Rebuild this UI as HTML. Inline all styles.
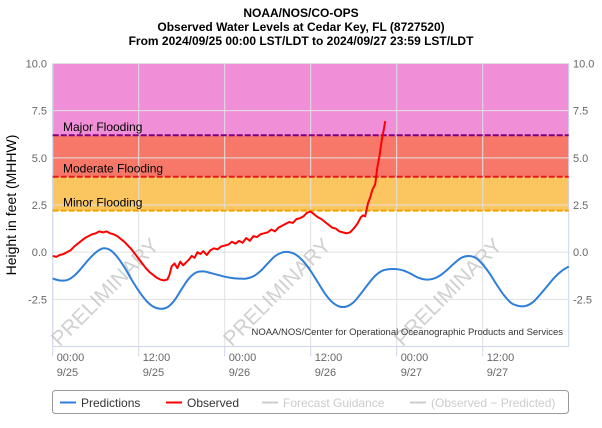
<!DOCTYPE html>
<html><head><meta charset="utf-8"><style>
body{margin:0;background:#fff;font-family:"Liberation Sans",sans-serif}
svg text{font-family:"Liberation Sans",sans-serif}
</style></head><body>
<svg id="c" width="602" height="423" viewBox="0 0 602 423">
<g font-weight="bold" font-size="12" text-anchor="middle" fill="#000">
<text x="301" y="17">NOAA/NOS/CO-OPS</text>
<text x="301" y="31">Observed Water Levels at Cedar Key, FL (8727520)</text>
<text x="301" y="45">From 2024/09/25 00:00 LST/LDT to 2024/09/27 23:59 LST/LDT</text>
</g>
<text transform="translate(16,205) rotate(-90)" text-anchor="middle" font-size="14" fill="#000">Height in feet (MHHW)</text>
<g id="plot"></g>
<rect x="52.5" y="390.5" width="516" height="23" rx="3" fill="#fff" stroke="#999"/>
<g font-size="12">
<g><line x1="60" y1="402.5" x2="76" y2="402.5" stroke="#2f7ed8" stroke-width="2"/><text x="81" y="407" fill="#333">Predictions</text></g>
<g><line x1="166" y1="402.5" x2="182" y2="402.5" stroke="#ff0000" stroke-width="2"/><text x="187" y="407" fill="#333">Observed</text></g>
<g><line x1="262" y1="402.5" x2="278" y2="402.5" stroke="#ccc" stroke-width="2"/><text x="283" y="407" fill="#ccc">Forecast Guidance</text></g>
<g><line x1="410" y1="402.5" x2="426" y2="402.5" stroke="#ccc" stroke-width="2"/><text x="431" y="407" fill="#ccc">(Observed − Predicted)</text></g>
</g>
</svg>
<script>
const predHours=[0,1,2,3,4,5,6,7,8,9,10,11,12,13,14,15,16,17,18,19,20,21,22,23,24,25,26,27,28,29,30,31,32,33,34,35,36,37,38,39,40,41,42,43,44,45,46,47,48,49,50,51,52,53,54,55,56,57,58,59,60,61,62,63,64,65,66,67,68,69,70,71,72];
const predVals=[-1.40,-1.50,-1.48,-1.25,-0.85,-0.40,-0.02,0.20,0.12,-0.25,-0.80,-1.45,-2.05,-2.55,-2.88,-3.00,-2.92,-2.55,-1.95,-1.40,-1.08,-1.02,-1.10,-1.20,-1.30,-1.37,-1.40,-1.40,-1.28,-1.00,-0.60,-0.22,-0.02,0.00,-0.15,-0.50,-1.00,-1.60,-2.20,-2.65,-2.88,-2.88,-2.65,-2.20,-1.70,-1.25,-0.98,-0.90,-0.90,-0.98,-1.15,-1.35,-1.45,-1.42,-1.25,-0.95,-0.60,-0.30,-0.20,-0.30,-0.65,-1.15,-1.75,-2.30,-2.70,-2.85,-2.85,-2.65,-2.25,-1.80,-1.35,-1.00,-0.76];
const obsHours=[0,0.5,1,1.5,2,2.5,3,3.5,4,4.5,5,5.5,6,6.5,7,7.5,8,8.5,9,9.5,10,10.5,11,11.5,12,12.5,13,13.5,14,14.5,15,15.5,16,16.3,16.6,17,17.4,17.8,18.2,18.6,19,19.4,19.8,20.2,20.6,21,21.5,22,22.5,23,23.5,24,24.5,25,25.5,26,26.5,27,27.5,28,28.5,29,29.5,30,30.5,31,31.5,32,32.5,33,33.5,34,34.5,35,35.5,36,36.5,37,37.5,38,38.5,39,39.5,40,40.5,41,41.5,42,42.5,43,43.3,43.6,44,44.3,44.6,45,45.3,45.6,45.9,46.2,46.4];
const obsVals=[-0.2,-0.25,-0.15,-0.1,0.0,0.1,0.3,0.45,0.6,0.75,0.85,0.95,1.0,1.1,1.05,1.1,1.0,0.95,0.85,0.7,0.55,0.35,0.15,-0.1,-0.35,-0.6,-0.85,-1.05,-1.2,-1.35,-1.45,-1.5,-1.45,-1.2,-0.75,-0.6,-0.85,-0.5,-0.7,-0.55,-0.4,-0.2,-0.3,0.0,-0.1,0.05,-0.15,0.1,0.2,0.15,0.3,0.35,0.4,0.55,0.45,0.6,0.5,0.75,0.6,0.85,0.8,0.95,1.0,1.05,1.2,1.1,1.3,1.4,1.5,1.6,1.55,1.75,1.8,1.9,2.1,2.15,2.0,1.85,1.75,1.6,1.45,1.3,1.25,1.1,1.05,1.0,1.05,1.25,1.5,1.85,1.95,1.9,2.6,2.9,3.3,3.6,4.5,5.1,5.9,6.5,6.95];
const yTicks=[10,7.5,5,2.5,0,-2.5];
const yTickLabels=["10.0","7.5","5.0","2.5","0.0","-2.5"];
const xTickHours=[0,12,24,36,48,60];
const xTickTimes=["00:00","12:00","00:00","12:00","00:00","12:00"];
const xTickDates=["9/25","9/25","9/26","9/26","9/27","9/27"];
const floodLevels=[6.2,4.0,2.2];
const floodNames=["Major Flooding","Moderate Flooding","Minor Flooding"];

const L=52.7,R=568.7,T=63.5,B=346.5,YMIN=-5,YMAX=10,HMAX=72;
const xs=h=>L+(R-L)*h/HMAX;
const ys=v=>B-(B-T)*(v-YMIN)/(YMAX-YMIN);
const NS="http://www.w3.org/2000/svg";
const g=document.getElementById('plot');
function mk(tag,attrs,parent){const e=document.createElementNS(NS,tag);for(const k in attrs)e.setAttribute(k,attrs[k]);(parent||g).appendChild(e);return e;}

const bandTop=[YMAX,floodLevels[0],floodLevels[1]];
const bandColors=["#f08fd8","#f77869","#fbc660"];
const bandNames=["major-flooding-band","moderate-flooding-band","minor-flooding-band"];
for(let i=0;i<3;i++){
  const r=mk('rect',{x:L,y:ys(bandTop[i]),width:R-L,height:ys(floodLevels[i])-ys(bandTop[i]),fill:bandColors[i]});
  
  
}
yTicks.forEach((v,i)=>{
  const l=mk('line',{x1:L,x2:R,y1:ys(v),y2:ys(v),stroke:"#e0e0e0","stroke-width":1});
  
  
  const t1=mk('text',{x:47,y:ys(v)+4,"text-anchor":"end","font-size":11,fill:"#666"});t1.textContent=yTickLabels[i];
  
  
  const t2=mk('text',{x:573,y:ys(v)+4,"text-anchor":"start","font-size":11,fill:"#666"});t2.textContent=yTickLabels[i];
  
  
});
xTickHours.forEach((h,i)=>{
  const l=mk('line',{x1:xs(h),x2:xs(h),y1:T,y2:B,stroke:"#e0e0e0","stroke-width":1});
  
  
  const tk=mk('line',{x1:xs(h),x2:xs(h),y1:B,y2:B+10,stroke:"#ccd6eb","stroke-width":1});
  
  
  const t1=mk('text',{x:xs(h)+4,y:361,"font-size":11,fill:"#666"});t1.textContent=xTickTimes[i];
  
  
  const t2=mk('text',{x:xs(h)+4,y:376,"font-size":11,fill:"#666"});t2.textContent=xTickDates[i];
  
  
});
mk('line',{x1:L,x2:R,y1:B,y2:B,stroke:"#ccd6eb"});
mk('line',{x1:L,x2:L,y1:T,y2:B,stroke:"#ccd6eb"});
mk('line',{x1:R,x2:R,y1:T,y2:B,stroke:"#ccd6eb"});
const lineColors=["#800080","#e8191a","#f5a300"];
const lineNames=["major-flooding","moderate-flooding","minor-flooding"];
floodLevels.forEach((v,i)=>{
  const l=mk('line',{x1:L,x2:R,y1:ys(v),y2:ys(v),stroke:lineColors[i],"stroke-width":2,"stroke-dasharray":"6,2"});
  
  
  const t=mk('text',{x:63,y:ys(v)-4,"font-size":12,fill:"#000"});t.textContent=floodNames[i];
  
  
});
[110,282,453].forEach(cx=>{
  const t=mk('text',{x:0,y:0,transform:`translate(${cx},297) rotate(-45)`,"text-anchor":"middle","font-size":21,fill:"#c8c8c8","fill-opacity":0.85});
  t.textContent="PRELIMINARY";
  
  
});
const cr=mk('text',{x:563,y:335,"text-anchor":"end","font-size":9.5,fill:"#333"});
cr.textContent="NOAA/NOS/Center for Operational Oceanographic Products and Services";


function smoothPath(hs,vs){
  const p=hs.map((h,i)=>[xs(h),ys(vs[i])]);
  let d=`M${p[0][0]},${p[0][1]}`;
  for(let i=0;i<p.length-1;i++){
    const p0=p[i-1]||p[i],p1=p[i],p2=p[i+1],p3=p[i+2]||p2;
    d+=` C${p1[0]+(p2[0]-p0[0])/6},${p1[1]+(p2[1]-p0[1])/6} ${p2[0]-(p3[0]-p1[0])/6},${p2[1]-(p3[1]-p1[1])/6} ${p2[0]},${p2[1]}`;
  }
  return d;
}
const pp=mk('path',{d:smoothPath(predHours,predVals),fill:"none",stroke:"#2f7ed8","stroke-width":2});


const op=mk('path',{d:"M"+obsHours.map((h,i)=>xs(h)+","+ys(obsVals[i])).join(" L"),fill:"none",stroke:"#ff0000","stroke-width":2,"stroke-linejoin":"round"});


</script>
</body></html>
